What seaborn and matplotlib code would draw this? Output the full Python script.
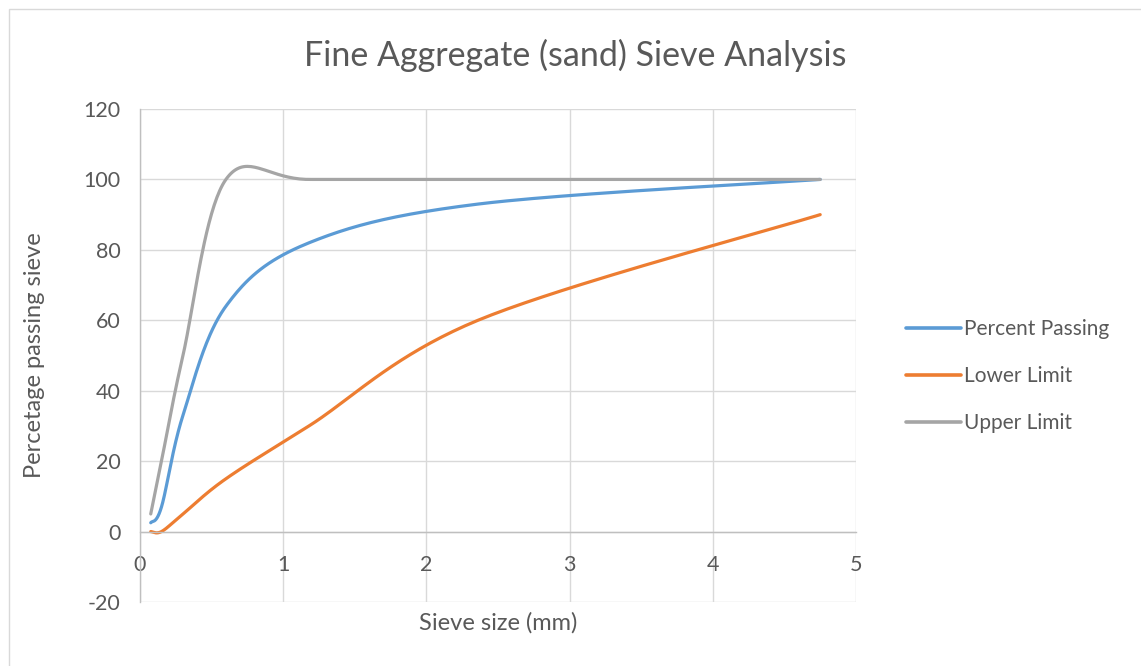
import numpy as np
import pandas as pd
import seaborn as sns
import matplotlib
matplotlib.use("Agg")
import matplotlib.pyplot as plt
from matplotlib.patches import Rectangle
from matplotlib.lines import Line2D

# ---- data ----
sieve_mm = [0.075, 0.15, 0.3, 0.6, 1.18, 2.36, 4.75]
percent_passing = [2.5, 7, 33, 64, 82, 93, 100]
lower_limit = [0, 0, 5, 15, 30, 60, 90]
upper_limit = [5, 20, 50, 100, 100, 100, 100]
series_names = ["Percent Passing", "Lower Limit", "Upper Limit"]
series_colors = ["#5B9BD5", "#ED7D31", "#A5A5A5"]
x_ticks = [0, 1, 2, 3, 4, 5]
y_ticks = [-20, 0, 20, 40, 60, 80, 100, 120]


def excel_smooth(xs, ys, n=40):
    """Catmull-Rom style Bezier smoothing (like Excel's 'smoothed line')."""
    P = np.column_stack([xs, ys]).astype(float)
    P = np.vstack([P[0], P, P[-1]])
    out = []
    t = np.linspace(0, 1, n)[:, None]
    for i in range(1, len(P) - 2):
        p0, p1, p2, p3 = P[i - 1], P[i], P[i + 1], P[i + 2]
        c1 = p1 + (p2 - p0) / 6.0
        c2 = p2 - (p3 - p1) / 6.0
        seg = ((1 - t) ** 3) * p1 + 3 * ((1 - t) ** 2) * t * c1 + 3 * (1 - t) * t ** 2 * c2 + t ** 3 * p2
        out.append(seg if i == 1 else seg[1:])
    arr = np.vstack(out)
    return arr[:, 0], arr[:, 1]


sns.set_theme(style="white")
plt.rcParams['font.family'] = ['Lato', 'DejaVu Sans']
plt.rcParams['axes.unicode_minus'] = False

fig = plt.figure(figsize=(11.41, 6.66), dpi=100)
fig.patch.set_facecolor("white")
ax = fig.add_axes([140 / 1141, 1 - 602 / 666, (856 - 140) / 1141, (602 - 109) / 666])

# outer chart border
fig.patches.append(Rectangle((9 / 1141, -0.05), 1.2, 1 - 9 / 666 + 0.05, transform=fig.transFigure,
                             fill=False, edgecolor="#D9D9D9", linewidth=1.0, zorder=0))

frames = []
for name, vals in zip(series_names, [percent_passing, lower_limit, upper_limit]):
    sx, sy = excel_smooth(sieve_mm, vals)
    frames.append(pd.DataFrame({"x": sx, "y": sy, "series": name}))
df = pd.concat(frames, ignore_index=True)

sns.lineplot(data=df, x="x", y="y", hue="series", palette=dict(zip(series_names, series_colors)),
             sort=False, estimator=None, units="series", linewidth=2.3, ax=ax, legend=False)

ax.set_xlim(0, 5)
ax.set_ylim(-20, 120)
ax.set_xticks(x_ticks)
ax.set_yticks(y_ticks)
ax.grid(True, color="#D9D9D9", linewidth=1.0)
ax.set_axisbelow(True)

for s in ["top", "right"]:
    ax.spines[s].set_visible(False)
ax.spines["left"].set_color("#BFBFBF")
ax.spines["left"].set_linewidth(1.0)
ax.spines["bottom"].set_position(("data", 0))
ax.spines["bottom"].set_color("#BFBFBF")
ax.spines["bottom"].set_linewidth(1.0)

ax.tick_params(axis="both", length=0, labelsize=15.5, labelcolor="#595959")
ax.tick_params(axis="y", pad=14)
ax.tick_params(axis="x", pad=17)

ax.set_xlabel("")
ax.set_ylabel("")
fig.text(498 / 1141, 1 - 623 / 666, "Sieve size (mm)", ha="center", va="center", fontsize=17, color="#595959")
fig.text(35 / 1141, 1 - 355 / 666, "Percetage passing sieve", ha="center", va="center", rotation=90,
         fontsize=17, color="#595959")
fig.text(575 / 1141, 1 - 55 / 666, "Fine Aggregate (sand) Sieve Analysis", ha="center", va="center",
         fontsize=24.5, color="#595959")

handles = [Line2D([0], [0], color=c, lw=2.6) for c in series_colors]
leg = fig.legend(handles, series_names, loc="center left", bbox_to_anchor=(898 / 1141, 1 - 376 / 666),
                 frameon=False, fontsize=15, labelcolor="#595959", handlelength=2.6, handletextpad=0.15,
                 labelspacing=1.3, borderaxespad=0)

fig.savefig("out.png", dpi=100, facecolor="white")
